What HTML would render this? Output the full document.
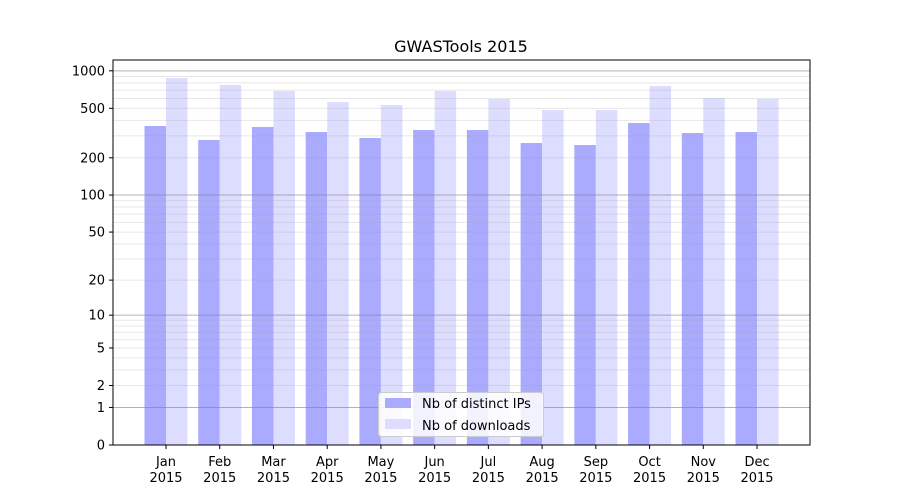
<!DOCTYPE html>
<html><head><meta charset="utf-8"><style>
body{margin:0;background:#fff;}
svg{display:block;font-family:"DejaVu Sans","Liberation Sans",sans-serif;}
</style></head><body>
<svg id="s" width="900" height="500" xmlns="http://www.w3.org/2000/svg">
<rect width="900" height="500" fill="#fff"/>
<g id="bars"></g>
<g id="grid"></g>
<rect x="113" y="60" width="697" height="385" fill="none" stroke="#000" stroke-width="1"/>
<g id="ticks" font-size="13" fill="#000"></g>
<text x="461" y="52" text-anchor="middle" font-size="16">GWASTools 2015</text>
<g>
<rect x="378.5" y="392.5" width="165" height="44" rx="3" fill="#fff" fill-opacity="0.85" stroke="#ccc"/>
<rect x="385" y="398" width="26" height="10" fill="#aaaaff"/>
<text x="422" y="408" font-size="13">Nb of distinct IPs</text>
<rect x="385" y="419" width="26" height="10" fill="#ddddff"/>
<text x="422" y="430" font-size="13">Nb of downloads</text>
</g>
</svg>
<script>
const NS="http://www.w3.org/2000/svg";
function el(p,t,a,txt){const e=document.createElementNS(NS,t);for(const k in a)e.setAttribute(k,a[k]);if(txt!==undefined)e.textContent=txt;document.getElementById(p).appendChild(e);}
function Y(v){return 445-124.7*Math.log10(v+1);}
for(let d=1;d<=100;d*=10){for(let m=1;m<=9;m++){const v=d*m;const y=Y(v);
 el("grid","line",{x1:113,x2:810,y1:y,y2:y,stroke:m==1?"#808080":"#a0a0a0","stroke-opacity":m==1?0.6:0.25,"stroke-width":1});}}
el("grid","line",{x1:113,x2:810,y1:Y(1000),y2:Y(1000),stroke:"#808080","stroke-opacity":0.6,"stroke-width":1});
[0,1,2,5,10,20,50,100,200,500,1000].forEach(v=>{const y=Y(v);
 el("ticks","line",{x1:109,x2:113,y1:y,y2:y,stroke:"#000"});
 el("ticks","text",{x:105,y:y+4.5,"text-anchor":"end"},String(v));});
const ip=[126,140,127,132,138,130,130,143,145,123,133,132];
const dl=[78,85,91,102,105,91,99,110,110,86,98,99];
const mo=["Jan","Feb","Mar","Apr","May","Jun","Jul","Aug","Sep","Oct","Nov","Dec"];
for(let i=0;i<12;i++){const c=166+i*53.73;
 el("bars","rect",{x:c-21.5,y:ip[i],width:21.5,height:445-ip[i],fill:"#aaaaff"});
 el("bars","rect",{x:c,y:dl[i],width:21.5,height:445-dl[i],fill:"#ddddff"});
 el("ticks","line",{x1:c,x2:c,y1:445,y2:449,stroke:"#000"});
 el("ticks","text",{x:c,y:466,"text-anchor":"middle"},mo[i]);
 el("ticks","text",{x:c,y:482,"text-anchor":"middle"},"2015");}
</script>
</body></html>
